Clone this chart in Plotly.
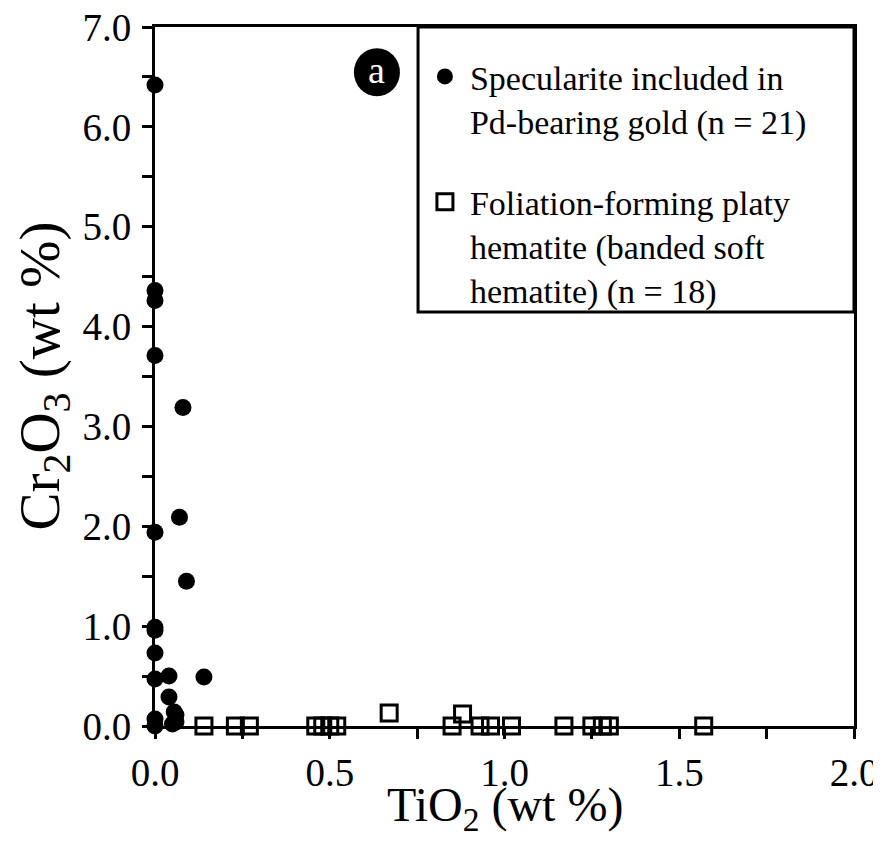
import plotly.graph_objects as go

# Specularite included in Pd-bearing gold (n = 21)
spec_tio2 = [0.00, 0.00, 0.00, 0.00, 0.08, 0.07, 0.00, 0.09, 0.00, 0.00, 0.00,
             0.04, 0.14, 0.04, 0.055, 0.00, 0.06, 0.05, 0.00, 0.00, 0.06]
spec_cr2o3 = [6.42, 4.36, 4.26, 3.71, 3.19, 2.09, 1.94, 1.45, 0.99, 0.73, 0.47,
              0.50, 0.49, 0.29, 0.14, 0.07, 0.11, 0.02, 0.00, 0.96, 0.04]

# Foliation-forming platy hematite (banded soft hematite) (n = 18)
plat_tio2 = [0.14, 0.23, 0.27, 0.46, 0.48, 0.50, 0.52, 0.67, 0.85, 0.88,
             0.93, 0.96, 1.02, 1.17, 1.25, 1.28, 1.30, 1.57]
plat_cr2o3 = [0.00, 0.00, 0.00, 0.00, 0.00, 0.00, 0.00, 0.13, 0.00, 0.12,
              0.00, 0.00, 0.00, 0.00, 0.00, 0.00, 0.00, 0.00]

name_spec = "Specularite included in<br>Pd-bearing gold (n = 21)"
name_plat = "Foliation-forming platy<br>hematite (banded soft<br>hematite) (n = 18)"

x_title = "TiO<sub>2</sub> (wt %)"
y_title = "Cr<sub>2</sub>O<sub>3</sub> (wt %)"

FONT = "Liberation Serif, Times New Roman, serif"

fig = go.Figure()
fig.add_trace(go.Scatter(
    x=spec_tio2, y=spec_cr2o3, mode="markers", name=name_spec,
    legendgroup="g1",
    marker=dict(symbol="circle", size=17, color="black"),
    cliponaxis=False,
))
fig.add_trace(go.Scatter(
    x=plat_tio2, y=plat_cr2o3, mode="markers", name=name_plat,
    legendgroup="g2",
    marker=dict(symbol="square-open", size=16, color="black",
                line=dict(width=3, color="black")),
    cliponaxis=False,
))

axis_common = dict(
    showline=True, linecolor="black", linewidth=3, mirror=True,
    ticks="outside", ticklen=10, tickwidth=3, tickcolor="black",
    showgrid=False, zeroline=False, layer="below traces",
    tickfont=dict(family=FONT, size=39, color="black"),
    automargin=False, ticklabeloverflow="allow",
)

fig.update_xaxes(
    range=[0, 2.0], dtick=0.5, tick0=0, tickformat=".1f",
    minor=dict(dtick=0.25, ticks="outside", ticklen=10, tickwidth=3, tickcolor="black"),
    **axis_common,
)
fig.update_yaxes(
    range=[0, 7.0], dtick=1.0, tick0=0, tickformat=".1f",
    minor=dict(dtick=0.5, ticks="outside", ticklen=10, tickwidth=3, tickcolor="black"),
    ticklabelstandoff=3,
    **axis_common,
)

# axis titles
fig.add_annotation(x=0.5, y=0, xref="paper", yref="paper", text=x_title,
                   showarrow=False, xanchor="center", yanchor="middle", yshift=-82,
                   font=dict(family=FONT, size=48, color="black"))
fig.add_annotation(x=0, y=0.5, xref="paper", yref="paper", text=y_title,
                   showarrow=False, textangle=-90, xanchor="center", yanchor="middle",
                   xshift=-112, font=dict(family=FONT, size=57, color="black"))

# legend frame
fig.add_shape(type="rect", xref="paper", yref="paper",
              x0=0.3763, x1=1.0, y0=0.5923, y1=1.0,
              fillcolor="white", line=dict(color="black", width=3), layer="above")

# panel label "a"
fig.add_shape(type="circle", xref="x", yref="y", xsizemode="pixel", ysizemode="pixel",
              xanchor=0.635, yanchor=6.547, x0=-23, x1=23, y0=-24, y1=24,
              fillcolor="black", line=dict(color="black", width=0))
fig.add_annotation(x=0.635, y=6.547, xref="x", yref="y", text="a", showarrow=False,
                   font=dict(family=FONT, size=38, color="white"), yshift=2)

fig.update_layout(
    width=881, height=846,
    margin=dict(l=147, r=35, t=19, b=128),
    paper_bgcolor="white", plot_bgcolor="white",
    font=dict(family=FONT, color="black"),
    legend=dict(
        x=0.379, xanchor="left", y=1.0, yanchor="top",
        bgcolor="rgba(0,0,0,0)", borderwidth=0,
        font=dict(family=FONT, size=34, color="black"),
        title=dict(text=" ", font=dict(family=FONT, size=16)),
        valign="top", tracegroupgap=34, itemsizing="trace", itemwidth=40,
        traceorder="grouped",
    ),
)

fig.write_html("out.html")
